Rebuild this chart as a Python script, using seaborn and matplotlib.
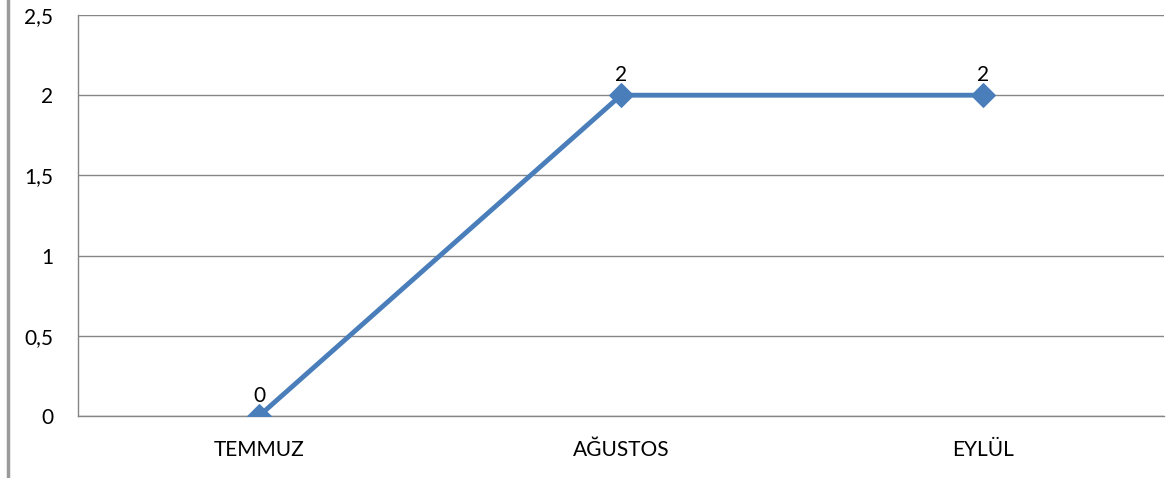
import matplotlib
matplotlib.use("Agg")
import matplotlib.pyplot as plt
import seaborn as sns
import pandas as pd
from matplotlib.lines import Line2D
from matplotlib.ticker import FuncFormatter

aylar = ['TEMMUZ', 'AĞUSTOS', 'EYLÜL']
degerler = [0, 2, 2]
y_ticks = [0, 0.5, 1, 1.5, 2, 2.5]

sns.set_theme(style='white')
plt.rcParams['font.family'] = ['Lato', 'DejaVu Sans']

df = pd.DataFrame({'Ay': aylar, 'Deger': degerler})
mavi = '#4A7EBB'

fig = plt.figure(figsize=(11.66, 4.78), dpi=100, facecolor='white')
ax = fig.add_axes([0.0669, 0.1297, 0.9314, 0.8389])

sns.lineplot(data=df, x='Ay', y='Deger', color=mavi, linewidth=3.5,
             marker='D', markersize=12, markeredgecolor=mavi, ax=ax, zorder=3)

# deger etiketleri
for x, y in zip(aylar, degerler):
    ax.annotate(str(y), (x, y), xytext=(0, 7), textcoords='offset points',
                ha='center', va='bottom', fontsize=15, color='black')

ax.set_xlim(-0.5, 2.5)
ax.set_ylim(0, 2.5)
ax.set_yticks(y_ticks)
ax.yaxis.set_major_formatter(FuncFormatter(lambda v, p: f'{v:g}'.replace('.', ',')))
ax.grid(True, axis='y', color='#868686', linewidth=1)
ax.set_axisbelow(True)
ax.set_xlabel('')
ax.set_ylabel('')
ax.tick_params(axis='both', length=0, labelsize=15, colors='black')
ax.tick_params(axis='y', pad=18)
ax.tick_params(axis='x', pad=17)

for s in ['top', 'right']:
    ax.spines[s].set_visible(False)
for s in ['left', 'bottom']:
    ax.spines[s].set_color('#868686')
    ax.spines[s].set_linewidth(1)

fig.add_artist(Line2D([0.0065, 0.0065], [0, 1], transform=fig.transFigure,
                      color='#9a9a9a', linewidth=2.5))

fig.savefig('out.png', dpi=100, facecolor='white')
